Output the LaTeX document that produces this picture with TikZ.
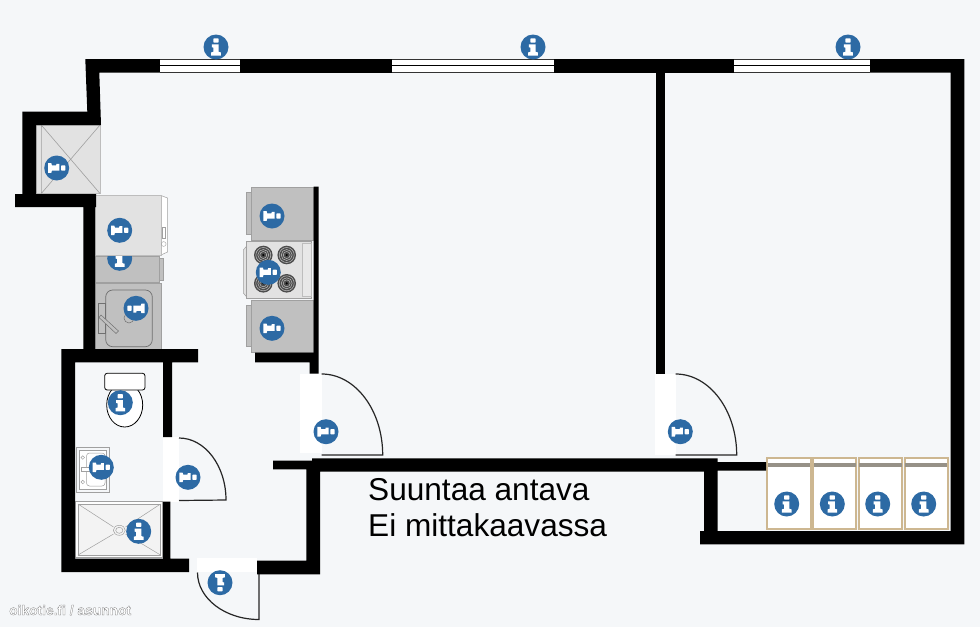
\documentclass[tikz,border=0pt]{standalone}
\usepackage{fontspec}
\setmainfont{Liberation Sans}
\newfontfamily\wmfont[FakeBold=1.6]{Liberation Sans Bold}
\definecolor{bgc}{RGB}{245,247,249}
\definecolor{iconblue}{RGB}{45,106,164}
\definecolor{appl}{RGB}{226,226,226}
\definecolor{cnt}{RGB}{192,192,192}
\definecolor{edgeg}{RGB}{160,160,160}
\definecolor{tan}{RGB}{205,183,145}
\definecolor{strip}{RGB}{150,145,135}
\tikzset{
 x=1pt,y=-1pt,
 wall/.style={fill=black,draw=none},
 opening/.style={fill=white,draw=none},
 swing/.style={draw=black!85,line width=1.2pt},
 appliance/.style={fill=appl,draw=edgeg!70,line width=.5pt},
 counter/.style={fill=cnt,draw=edgeg,line width=.5pt},
 fixture/.style={draw=edgeg,line width=.6pt},
 bunk/.style={fill=white,draw=tan,line width=2pt},
 infoicon/.pic={
  \fill[iconblue] (0,0) circle[radius=12.5pt];
  \fill[white,rounded corners=.6pt] (-2.6,-8.6) rectangle (2.6,-4.4);
  \fill[white] (-4.2,-2.6)--(2.6,-2.6)--(2.6,4.8)--(4.8,5.4)--(4.8,8.6)--(-4.8,8.6)--(-4.8,5.4)--(-2.6,4.8)--(-2.6,.6)--(-4.2,.2)--cycle;
 },
 burner/.pic={
  \fill[black!70] (0,0) circle[radius=9.3pt];
  \draw[white!75!black,line width=.5pt] (0,0) circle[radius=7.5pt] (0,0) circle[radius=5.5pt] (0,0) circle[radius=3.5pt];
  \fill[black] (0,0) circle[radius=1.2pt];
 },
}
\begin{document}
\begin{tikzpicture}
\useasboundingbox (0,0) rectangle (980,627);
\fill[bgc] (0,0) rectangle (980,627);
% closet and appliances under the walls
\draw[appliance] (36,125) rectangle (100,193.5);
\draw[edgeg,line width=.6pt] (41.3,125)--(41.3,193.5) (41.3,125)--(100,193.5) (41.3,193.5)--(100,125);
\draw[counter] (95.7,256) rectangle (159.3,282);
\draw[counter] (159.3,258) rectangle (163.7,280);
\pic at (119.7,258.3) {infoicon};
\draw[appliance,draw=edgeg,fill=white] (161,195.5)--(167.5,198)--(167.5,252)--(161,255)--cycle;
\draw[appliance] (95,195) rectangle (161,255);
\draw[fixture,fill=white,line width=.4pt] (162,227) rectangle (165.5,238);
\draw[fixture,line width=.4pt] (163.7,244) circle[radius=2.4pt];
\draw[counter] (95,283) rectangle (161,351.3);
\draw[edgeg!70!black,line width=.7pt,rounded corners=7pt] (105.7,290) rectangle (152.3,346.7);
\draw[counter,draw=edgeg!70!black] (98.3,303) rectangle (105.3,333);
\draw[edgeg!70!black,line width=.5pt,fill=cnt] (99,317.5)--(101,315)--(118.5,331)--(116,333.5)--cycle;
\draw[edgeg!70!black,line width=.5pt] (129,318) circle[radius=5pt];
\draw[counter] (246.3,192.3) rectangle (251,234.3);
\draw[counter] (251,187) rectangle (313.7,240.3);
\draw[counter] (246.7,305) rectangle (251.5,346.7);
\draw[counter] (251,300) rectangle (313.7,352.7);
\draw[appliance,draw=edgeg] (246.7,246)--(243.3,250)--(243.3,293)--(246.7,297)--cycle;
\draw[appliance,draw=edgeg] (246.7,241) rectangle (311,298.3);
\draw[fill=appl!80!white,draw=edgeg!70] (302.3,243) rectangle (311,296);
\pic at (263.3,255) {burner};
\pic at (286.7,255) {burner};
\pic at (263.3,283.3) {burner};
\pic at (286.7,283.3) {burner};
% toilet
\draw[black,line width=.8pt,fill=white] (124.7,405) ellipse[x radius=18pt,y radius=22pt];
\draw[black,line width=.8pt,fill=white,rounded corners=2.5pt] (104.7,373.3) rectangle (145,390);
% bath sink
\draw[fixture,fill=bgc,line width=.7pt] (76.5,447) rectangle (109,492.7);
\draw[fixture,fill=white,line width=.5pt] (79.5,450) rectangle (106,489.5);
\draw[fixture,line width=.5pt,rounded corners=3pt] (86.5,453) rectangle (105,486);
\draw[fixture,line width=.5pt] (82.8,457.5) circle[radius=1.8pt] (82.8,482) circle[radius=1.8pt];
\draw[fixture,fill=white,line width=.5pt] (81,467.5) rectangle (92,471.5);
% shower
\draw[fixture,fill=white!85!bgc,line width=.8pt] (75.7,501.7) rectangle (162.7,557.3);
\draw[fixture,fill=appl!40!white,line width=.5pt] (78,504) rectangle (160.5,555);
\draw[fixture,line width=.5pt] (78,504)--(113.5,527) (160.5,504)--(125.5,527) (78,555)--(113.5,534) (160.5,555)--(125.5,534);
\draw[fixture,line width=.5pt] (119.3,530.3) ellipse[x radius=6pt,y radius=5pt] (119.3,530.3) ellipse[x radius=3.6pt,y radius=3pt];
% bunks
\foreach \xa/\xb in {767/811,813/856.4,858.5/902.3,904.5/948}{
 \draw[bunk] (\xa,458) rectangle (\xb,528.5);
 \fill[strip] (\xa+.8,462.8) rectangle (\xb-.8,466.8);
}
% door openings
\fill[opening] (300,373.5) rectangle (321.7,453);
\fill[opening] (655,374) rectangle (675.7,455);
\fill[opening] (163,437) rectangle (179,501.7);
\fill[opening] (196.7,558) rectangle (257,572);
% door swings
\draw[swing] (321.7,374) arc[start angle=90,end angle=0,x radius=61pt,y radius=81pt]--(321.7,455);
\draw[swing] (675.7,374) arc[start angle=90,end angle=0,x radius=61pt,y radius=81pt]--(675.7,455);
\draw[swing] (179,438) arc[start angle=90,end angle=0,x radius=47pt,y radius=62pt]--(179,500.5);
\draw[swing] (197.5,572.5) arc[start angle=180,end angle=270,x radius=61.5pt,y radius=47pt]--(259,572.5);
% walls
\fill[wall] (85.3,59)--(160,59)--(160,72.7)--(99.3,72.7)--(101,125)--(36,125)--(36,194)--(96,194)--(96,207)--(95,207)--(95,349)--(198,349)--(198,362.3)--(172,362.3)--(172,437)--(163,437)--(163,362.3)--(75,362.3)--(75,558.7)--(163,558.7)--(163,501.7)--(170.3,501.7)--(170.3,558.7)--(189,558.7)--(189,572)--(61.3,572)--(61.3,349)--(83.3,349)--(83.3,207)--(15,207)--(15,194)--(22.3,194)--(22.3,111.7)--(87.3,111.7)--cycle;
\fill[wall] (240,59) rectangle (392,72.7);
\fill[wall] (554,59) rectangle (734,72.7);
\fill[wall] (870,59)--(964.3,59)--(964.3,544.3)--(700,544.3)--(700,531)--(704,531)--(704,471.7)--(312,471.7)--(320,471.7)--(320,574.3)--(257,574.3)--(257,560.7)--(306.3,560.7)--(306.3,469.3)--(273,469.3)--(273,460.7)--(312,460.7)--(312,458.3)--(717.7,458.3)--(717.7,462)--(766,462)--(766,470.7)--(717.7,470.7)--(717.7,531)--(950.7,531)--(950.7,72.7)--(870,72.7)--cycle;
\fill[wall] (655.7,72) rectangle (664.7,374);
\fill[wall] (313.7,186.7)--(318.5,186.7)--(318.5,373.5)--(309.7,373.5)--(309.7,362.3)--(255,362.3)--(255,352.7)--(313.7,352.7)--cycle;
% windows
\foreach \xa/\xb in {160/240,392/554,734/870}{
 \fill[white] (\xa,59) rectangle (\xb,72.7);
 \fill[black!80] (\xa,58.6) rectangle (\xb,59.4);
 \fill[black!80] (\xa,71.8) rectangle (\xb,72.7);
 \fill[black] (\xa,64.7) rectangle (\xb,65.9);
}
% icons
\foreach \px/\py in {216/47,533/47,848/47,120.3/402.7,138.7/531.3,786.7/504,832.3/504,877.7/504,923.7/504}
 \pic at (\px,\py) {infoicon};
\foreach \px/\py in {56.7/168,119.7/230.3,272/216,268.3/272.3,272/328.3,101.3/467.3,188/477.3,326/431.7,680.3/431.7}
 \pic[rotate=-90] at (\px,\py) {infoicon};
\pic[rotate=90] at (136,308.3) {infoicon};
\pic[rotate=180] at (220,582.7) {infoicon};
% text
\node[anchor=base west,inner sep=0,font=\fontsize{31.6}{36}\selectfont] (t1) at (368,500) {Suuntaa antava};
\node[anchor=base west,inner sep=0,font=\fontsize{31.6}{36}\selectfont] (t2) at (368,536) {Ei mittakaavassa};
\node[anchor=base west,inner sep=0,font=\fontsize{13.8}{16}\wmfont] (wm) at (9,615) {\special{pdf:bcolor [1] [0.42]}oikotie.fi / asunnot\special{pdf:ecolor}};
\end{tikzpicture}
\end{document}
